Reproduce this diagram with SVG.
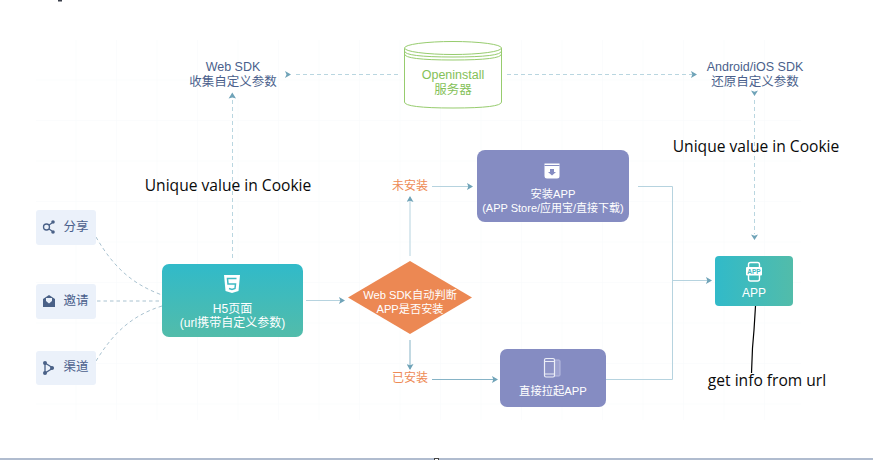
<svg xmlns="http://www.w3.org/2000/svg" width="873" height="460" viewBox="0 0 873 460">
<style>
text{font-family:"Liberation Sans","Noto Sans CJK SC",sans-serif;text-anchor:middle}
.sm{font-size:12px;fill:#fff}
.nav{font-size:12.500px;fill:#4a5f8c}
.lab{font-size:12px;fill:#ee8a55}
.note{font-family:"Open Sans","Noto Sans",sans-serif;font-size:15.600px;fill:#0a0a0a}
.srv{font-size:12.500px;fill:#84c158}
.dash{fill:none;stroke:#b9d6e0;stroke-width:1;stroke-dasharray:4 3}
.curve{fill:none;stroke:#a9c2d0;stroke-width:1;stroke-dasharray:3.500 3}
.solid{fill:none;stroke:#b6d3df;stroke-width:1}
.solidd{fill:none;stroke:#86b3c6;stroke-width:1}
.side{fill:#ebf1fa}
.ico{fill:#4a6187}
.head{fill:#6fa3b8}
</style>
<defs>
<marker id="ah" markerUnits="userSpaceOnUse" markerWidth="7" markerHeight="7" refX="5" refY="3.500" orient="auto"><path d="M0 0L6 3.500L0 7L1.300 3.500Z" fill="#6fa3b8"/></marker>
<linearGradient id="gv" x1="0" y1="0" x2="0" y2="1"><stop offset="0" stop-color="#31bac9"/><stop offset="1" stop-color="#52bcaa"/></linearGradient>
<linearGradient id="gh" x1="0" y1="0" x2="1" y2="0"><stop offset="0" stop-color="#31bac9"/><stop offset="1" stop-color="#52bcaa"/></linearGradient>
<pattern id="grid" width="40.500" height="40.500" patternUnits="userSpaceOnUse" x="36" y="40"><path d="M40.500 0V40.500H0" fill="none" stroke="#f8fafb" stroke-width="1"/></pattern>
</defs>
<rect width="873" height="460" fill="#fff"/>
<rect x="36" y="40" width="765" height="380" fill="url(#grid)"/>
<rect y="458" width="873" height="2" fill="#b0bccf"/>
<rect x="434.500" y="458.500" width="4" height="2" fill="#fff" stroke="#444" stroke-width="1"/>
<rect x="58" y="0" width="4" height="1.500" fill="#3a3f4a"/>

<g id="connectors">
<path class="curve" d="M96 237C115 270 135 285 162 295"/>
<path class="curve" d="M97 301H162"/>
<path class="curve" d="M96 361C112 335 130 316 162 306"/>
<path class="dash" d="M232.500 258V100"/>
<path class="head" d="M232.300 92.500L236 98.500L232.300 97.500L228.600 98.500Z"/>
<path class="dash" d="M398 74.500H293"/>
<path class="head" d="M291 74.500L285 71L286.500 74.500L285 78Z"/>
<path class="dash" d="M507 74.500H692"/>
<path class="head" d="M697 74.500L691 71L692.300 74.500L691 78Z"/>
<path class="dash" d="M754.500 100V234"/>
<path class="head" d="M754.500 96L751 90.500L754.500 91.700L758 90.500Z"/>
<path class="head" d="M754.500 240L751 234.500L754.500 235.700L758 234.500Z"/>
<path class="solid" d="M306 300.500H344" marker-end="url(#ah)"/>
<path class="solid" d="M410 256V197" marker-end="url(#ah)"/>
<path class="solidd" d="M410 340V369" marker-end="url(#ah)"/>
<path class="solid" d="M432 186.500H472" marker-end="url(#ah)"/>
<path class="solidd" d="M432 379.500H497" marker-end="url(#ah)"/>
<path class="solid" d="M638 186.500H672.500V379.500H606"/>
<path class="solid" d="M672.500 280.500H711" marker-end="url(#ah)"/>
</g>

<g id="node-share">
<rect class="side" x="36" y="210" width="60" height="35" rx="3"/>
<g fill="none" stroke="#4a6187" stroke-width="1.300"><circle cx="46.500" cy="227" r="3"/><path d="M49 225L52 223M49 229L52 231"/></g>
<circle class="ico" cx="53" cy="222" r="1.800"/><circle class="ico" cx="53" cy="232" r="1.800"/>
<text class="nav" x="76" y="231">分享</text>
</g>
<g id="node-invite">
<rect class="side" x="36" y="284" width="60" height="35" rx="3"/>
<path class="ico" d="M43 299L49 295L55 299V307H43Z"/>
<path d="M46 298H52V301L49 303.500L46 301Z" fill="#ebf1fa"/>
<text class="nav" x="76" y="305">邀请</text>
</g>
<g id="node-channel">
<rect class="side" x="36" y="351" width="60" height="34" rx="3"/>
<path d="M45 363L53 368L45 373Z" fill="none" stroke="#4a6187" stroke-width="1.300"/>
<circle class="ico" cx="45" cy="363" r="2"/><circle class="ico" cx="45" cy="373" r="2"/><circle class="ico" cx="52" cy="368" r="2"/>
<text class="nav" x="76" y="371">渠道</text>
</g>

<g id="node-h5">
<rect x="162" y="264" width="141" height="73" rx="7" fill="url(#gv)"/>
<path d="M224 275H240L238.500 291L232 293L225.500 291Z" fill="#fff"/>
<path d="M236.500 278.500H227.500L228 284H235.500L235 288.500L232 289.500L229 288.500" fill="none" stroke="#3fbac4" stroke-width="1.500"/>
<text class="sm"><tspan x="232.500" y="313">H5页面</tspan><tspan x="232.500" y="327">(url携带自定义参数)</tspan></text>
</g>

<g id="node-decision">
<path d="M410 261L472 297.500L410 334L348 297.500Z" fill="#ec8853"/>
<text class="sm" style="font-size:11.200px"><tspan x="410" y="299">Web SDK自动判断</tspan><tspan x="410" y="313">APP是否安装</tspan></text>
</g>

<g id="node-install">
<rect x="477" y="150" width="152" height="72" rx="8" fill="#858cc2"/>
<path d="M544.500 163.500H559.500V176Q559.500 178.500 557 178.500H547Q544.500 178.500 544.500 176Z" fill="#fff"/>
<path d="M544.500 165.500H559.500" stroke="#858cc2" stroke-width="1"/>
<path d="M550 169H554V172H556L552 175.500L548 172H550Z" fill="#858cc2"/>
<text class="sm" style="font-size:11.200px"><tspan x="553" y="198">安装APP</tspan><tspan x="553" y="212" style="font-size:11px">(APP Store/应用宝/直接下载)</tspan></text>
</g>

<g id="node-direct">
<rect x="500" y="349" width="106" height="58" rx="7" fill="#858cc2"/>
<rect x="553" y="360" width="7" height="16" rx="1" fill="#9da2d0" stroke="#b8bce0" stroke-width="1"/>
<rect x="544.500" y="358.500" width="10" height="18.500" rx="1.500" fill="#8d93c6" stroke="#eceef7" stroke-width="1.200"/>
<path d="M545 361.500H554M545 374H554" stroke="#eceef7" stroke-width="1"/>
<text class="sm" x="553" y="395" style="font-size:11.300px">直接拉起APP</text>
</g>

<g id="node-app">
<rect x="715" y="256" width="78" height="50" rx="4" fill="url(#gh)"/>
<rect x="748.500" y="262.500" width="11" height="18.500" rx="2" fill="none" stroke="#fff" stroke-width="1.400"/>
<rect x="746" y="267" width="16" height="8.500" rx="1" fill="#fff"/>
<text x="754" y="274" style="font-size:6.500px;font-weight:700;fill:#3fb9bf">APP</text>
<text class="sm" x="754" y="297">APP</text>
</g>

<g id="node-server">
<path d="M404.500 48V102Q404.500 108 453 108T501.500 102V48" fill="#fff" stroke="#97cc6e" stroke-width="1"/>
<ellipse cx="453" cy="48" rx="48.500" ry="6.500" fill="#fff" stroke="#97cc6e" stroke-width="1"/>
<path d="M404.500 51Q404.500 57 453 57T501.500 51M404.500 54Q404.500 60 453 60T501.500 54" fill="none" stroke="#97cc6e" stroke-width="1"/>
<text class="srv"><tspan x="453" y="79">Openinstall</tspan><tspan x="453" y="94">服务器</tspan></text>
</g>

<g id="node-websdk">
<text class="nav"><tspan x="233" y="71">Web SDK</tspan><tspan x="233" y="86">收集自定义参数</tspan></text>
</g>
<g id="node-nativesdk">
<text class="nav"><tspan x="755" y="71">Android/iOS SDK</tspan><tspan x="755" y="86">还原自定义参数</tspan></text>
</g>

<g id="label-no"><text class="lab" x="410" y="190">未安装</text></g>
<g id="label-yes"><text class="lab" x="410" y="382">已安装</text></g>

<g id="notes">
<path d="M755.500 306L754 330L752.500 348L751.500 373" fill="none" stroke="#000" stroke-width="1.200"/>
<text class="note" x="228" y="191">Unique value in Cookie</text>
<text class="note" x="756" y="152">Unique value in Cookie</text>
<text class="note" x="767" y="386">get info from url</text>
</g>
</svg>
